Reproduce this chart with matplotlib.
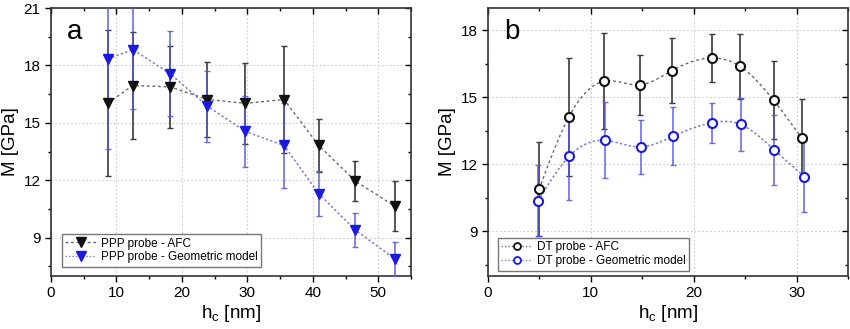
import numpy as np
import matplotlib
matplotlib.use("Agg")
import matplotlib.pyplot as plt
from matplotlib.ticker import MultipleLocator

plt.rcParams['font.family'] = ['Liberation Sans', 'DejaVu Sans']

# ---- Panel a data (PPP probe) ----
a_hc = [8.7, 12.5, 18.2, 23.9, 29.7, 35.6, 40.9, 46.5, 52.5]
a_afc = [16.04, 16.95, 16.88, 16.22, 16.02, 16.22, 13.82, 11.96, 10.65]
a_afc_err = [3.8, 2.8, 2.15, 1.96, 2.1, 2.8, 1.4, 1.05, 1.3]
a_geo = [18.34, 18.83, 17.57, 15.87, 14.55, 13.82, 11.3, 9.4, 7.9]
a_geo_err = [4.7, 3.1, 2.22, 1.86, 1.83, 2.2, 1.17, 0.88, 0.9]

# ---- Panel b data (DT probe) ----
b_hc_afc = [4.97, 7.86, 11.3, 14.77, 17.9, 21.75, 24.5, 27.76, 30.5]
b_afc = [10.89, 14.12, 15.72, 15.56, 16.2, 16.76, 16.39, 14.87, 13.18]
b_afc_err = [2.1, 2.66, 2.15, 1.35, 1.45, 1.07, 1.45, 1.75, 1.75]
b_hc_geo = [4.87, 7.92, 11.33, 14.87, 17.95, 21.75, 24.55, 27.8, 30.75]
b_geo = [10.37, 12.37, 13.07, 12.78, 13.25, 13.86, 13.79, 12.66, 11.45]
b_geo_err = [1.6, 1.95, 1.7, 1.2, 1.3, 0.9, 1.2, 1.57, 1.6]


def natural_spline(x, y, n=300):
    x = np.asarray(x, float)
    y = np.asarray(y, float)
    m = len(x)
    h = np.diff(x)
    A = np.zeros((m, m))
    r = np.zeros(m)
    A[0, 0] = 1
    A[-1, -1] = 1
    for i in range(1, m - 1):
        A[i, i - 1] = h[i - 1]
        A[i, i] = 2 * (h[i - 1] + h[i])
        A[i, i + 1] = h[i]
        r[i] = 3 * ((y[i + 1] - y[i]) / h[i] - (y[i] - y[i - 1]) / h[i - 1])
    c = np.linalg.solve(A, r)
    xs = np.linspace(x[0], x[-1], n)
    idx = np.clip(np.searchsorted(x, xs) - 1, 0, m - 2)
    dx = xs - x[idx]
    b = (y[1:] - y[:-1]) / h - h * (2 * c[:-1] + c[1:]) / 3
    d = (c[1:] - c[:-1]) / (3 * h)
    ys = y[idx] + b[idx] * dx + c[idx] * dx ** 2 + d[idx] * dx ** 3
    return xs, ys


fig = plt.figure(figsize=(8.5, 3.29), dpi=100)
ax1 = fig.add_axes([51 / 850, 1 - 276 / 329, 360 / 850, 268 / 329])
ax2 = fig.add_axes([488 / 850, 1 - 276 / 329, 360 / 850, 268 / 329])

black = '#111111'
blue = '#1a1adf'
ebar_black = '#3a3a3a'
ebar_blue = '#5555e0'
line_black = '#666666'
line_blue = '#7a7ad8'


def style_axes(ax):
    for s in ax.spines.values():
        s.set_linewidth(1.2)
        s.set_color('#333333')
    ax.tick_params(which='both', top=True, right=True, labelsize=11)
    ax.tick_params(which='major', length=4, width=1)
    ax.tick_params(which='minor', length=2.5, width=1)
    ax.tick_params(which='both', direction='out')
    ax.grid(True, which='major', color='#cccccc', linestyle=(0, (1.5, 2)), linewidth=0.8)
    ax.set_axisbelow(True)


def set_inner_ticks(ax):
    # top and right ticks point inward
    for t in ax.xaxis.get_major_ticks() + ax.xaxis.get_minor_ticks():
        t.tick2line.set_marker(matplotlib.lines.TICKDOWN)
    for t in ax.yaxis.get_major_ticks() + ax.yaxis.get_minor_ticks():
        t.tick2line.set_marker(matplotlib.lines.TICKLEFT)


leg_kw = dict(loc='lower left', fontsize=8.5, frameon=True, fancybox=False,
              edgecolor='#777777', framealpha=1, handlelength=2.6, borderpad=0.3,
              labelspacing=0.15, handletextpad=0.4, borderaxespad=0)

# ---- Panel a ----
ax = ax1
ax.plot(a_hc, a_afc, linestyle=(0, (2, 2)), color=line_black, lw=1, zorder=2)
ax.plot(a_hc, a_geo, linestyle=(0, (1.5, 1.5)), color=line_blue, lw=1.1, zorder=2)
ax.errorbar(a_hc, a_afc, yerr=a_afc_err, fmt='none', ecolor=ebar_black, elinewidth=1.2,
            capsize=2.5, capthick=1, zorder=3)
ax.errorbar(a_hc, a_geo, yerr=a_geo_err, fmt='none', ecolor=ebar_blue, elinewidth=1.2,
            capsize=2.5, capthick=1, alpha=0.85, zorder=3)
ax.plot(a_hc, a_afc, linestyle='none', marker='v', ms=7.5, color=black, zorder=4)
ax.plot(a_hc, a_geo, linestyle='none', marker='v', ms=7.5, color=blue, zorder=4)
h1, = ax.plot([], [], linestyle=(0, (2, 2)), color=line_black, lw=1, marker='v', ms=7,
              mfc=black, mec=black)
h2, = ax.plot([], [], linestyle=(0, (1, 1.5)), color=line_blue, lw=1, marker='v', ms=7,
              mfc=blue, mec=blue)
ax.set_xlim(0, 55)
ax.set_ylim(7, 21)
ax.xaxis.set_major_locator(MultipleLocator(10))
ax.xaxis.set_minor_locator(MultipleLocator(5))
ax.yaxis.set_major_locator(MultipleLocator(3))
ax.yaxis.set_minor_locator(MultipleLocator(1.5))
style_axes(ax)
ax.set_xlabel(r'h$_\mathregular{c}$ [nm]', fontsize=13.5, labelpad=2)
ax.set_ylabel('M [GPa]', fontsize=13.5, labelpad=3)
ax.text(0.045, 0.96, 'a', transform=ax.transAxes, fontsize=20, va='top', ha='left')
leg = ax.legend([h1, h2], ['PPP probe - AFC', 'PPP probe - Geometric model'],
                bbox_to_anchor=(0.03, 0.034), **leg_kw)
leg.get_frame().set_linewidth(1)

# ---- Panel b ----
ax = ax2
xs, ys = natural_spline(b_hc_afc, b_afc)
ax.plot(xs, ys, linestyle=(0, (2, 2)), color=line_black, lw=1, zorder=2)
xs, ys = natural_spline(b_hc_geo, b_geo)
ax.plot(xs, ys, linestyle=(0, (1.5, 1.5)), color=line_blue, lw=1.1, zorder=2)
ax.errorbar(b_hc_afc, b_afc, yerr=b_afc_err, fmt='none', ecolor=ebar_black, elinewidth=1.2,
            capsize=2.5, capthick=1, zorder=3)
ax.errorbar(b_hc_geo, b_geo, yerr=b_geo_err, fmt='none', ecolor=ebar_blue, elinewidth=1.2,
            capsize=2.5, capthick=1, alpha=0.85, zorder=3)
ax.plot(b_hc_afc, b_afc, linestyle='none', marker='o', ms=6.5, mfc='white', mec=black,
        mew=1.5, zorder=4)
ax.plot(b_hc_geo, b_geo, linestyle='none', marker='o', ms=6.5, mfc='white', mec=blue,
        mew=1.5, zorder=4)
g1, = ax.plot([], [], linestyle=(0, (1, 1.5)), color=line_black, lw=1, marker='o', ms=5,
              mfc='white', mec=black, mew=1.3)
g2, = ax.plot([], [], linestyle=(0, (1, 1.5)), color=line_blue, lw=1, marker='o', ms=5,
              mfc='white', mec=blue, mew=1.3)
ax.set_xlim(0, 35)
ax.set_ylim(7, 19)
ax.xaxis.set_major_locator(MultipleLocator(10))
ax.xaxis.set_minor_locator(MultipleLocator(5))
ax.yaxis.set_major_locator(MultipleLocator(3))
ax.yaxis.set_minor_locator(MultipleLocator(1.5))
style_axes(ax)
ax.set_xlabel(r'h$_\mathregular{c}$ [nm]', fontsize=13.5, labelpad=2)
ax.set_ylabel('M [GPa]', fontsize=13.5, labelpad=3)
ax.text(0.045, 0.96, 'b', transform=ax.transAxes, fontsize=20, va='top', ha='left')
leg = ax.legend([g1, g2], ['DT probe - AFC', 'DT probe - Geometric model'],
                bbox_to_anchor=(0.027, 0.02), **leg_kw)
leg.get_frame().set_linewidth(1)

fig.canvas.draw()
set_inner_ticks(ax1)
set_inner_ticks(ax2)

fig.savefig('out.png', dpi=100, facecolor='white')
